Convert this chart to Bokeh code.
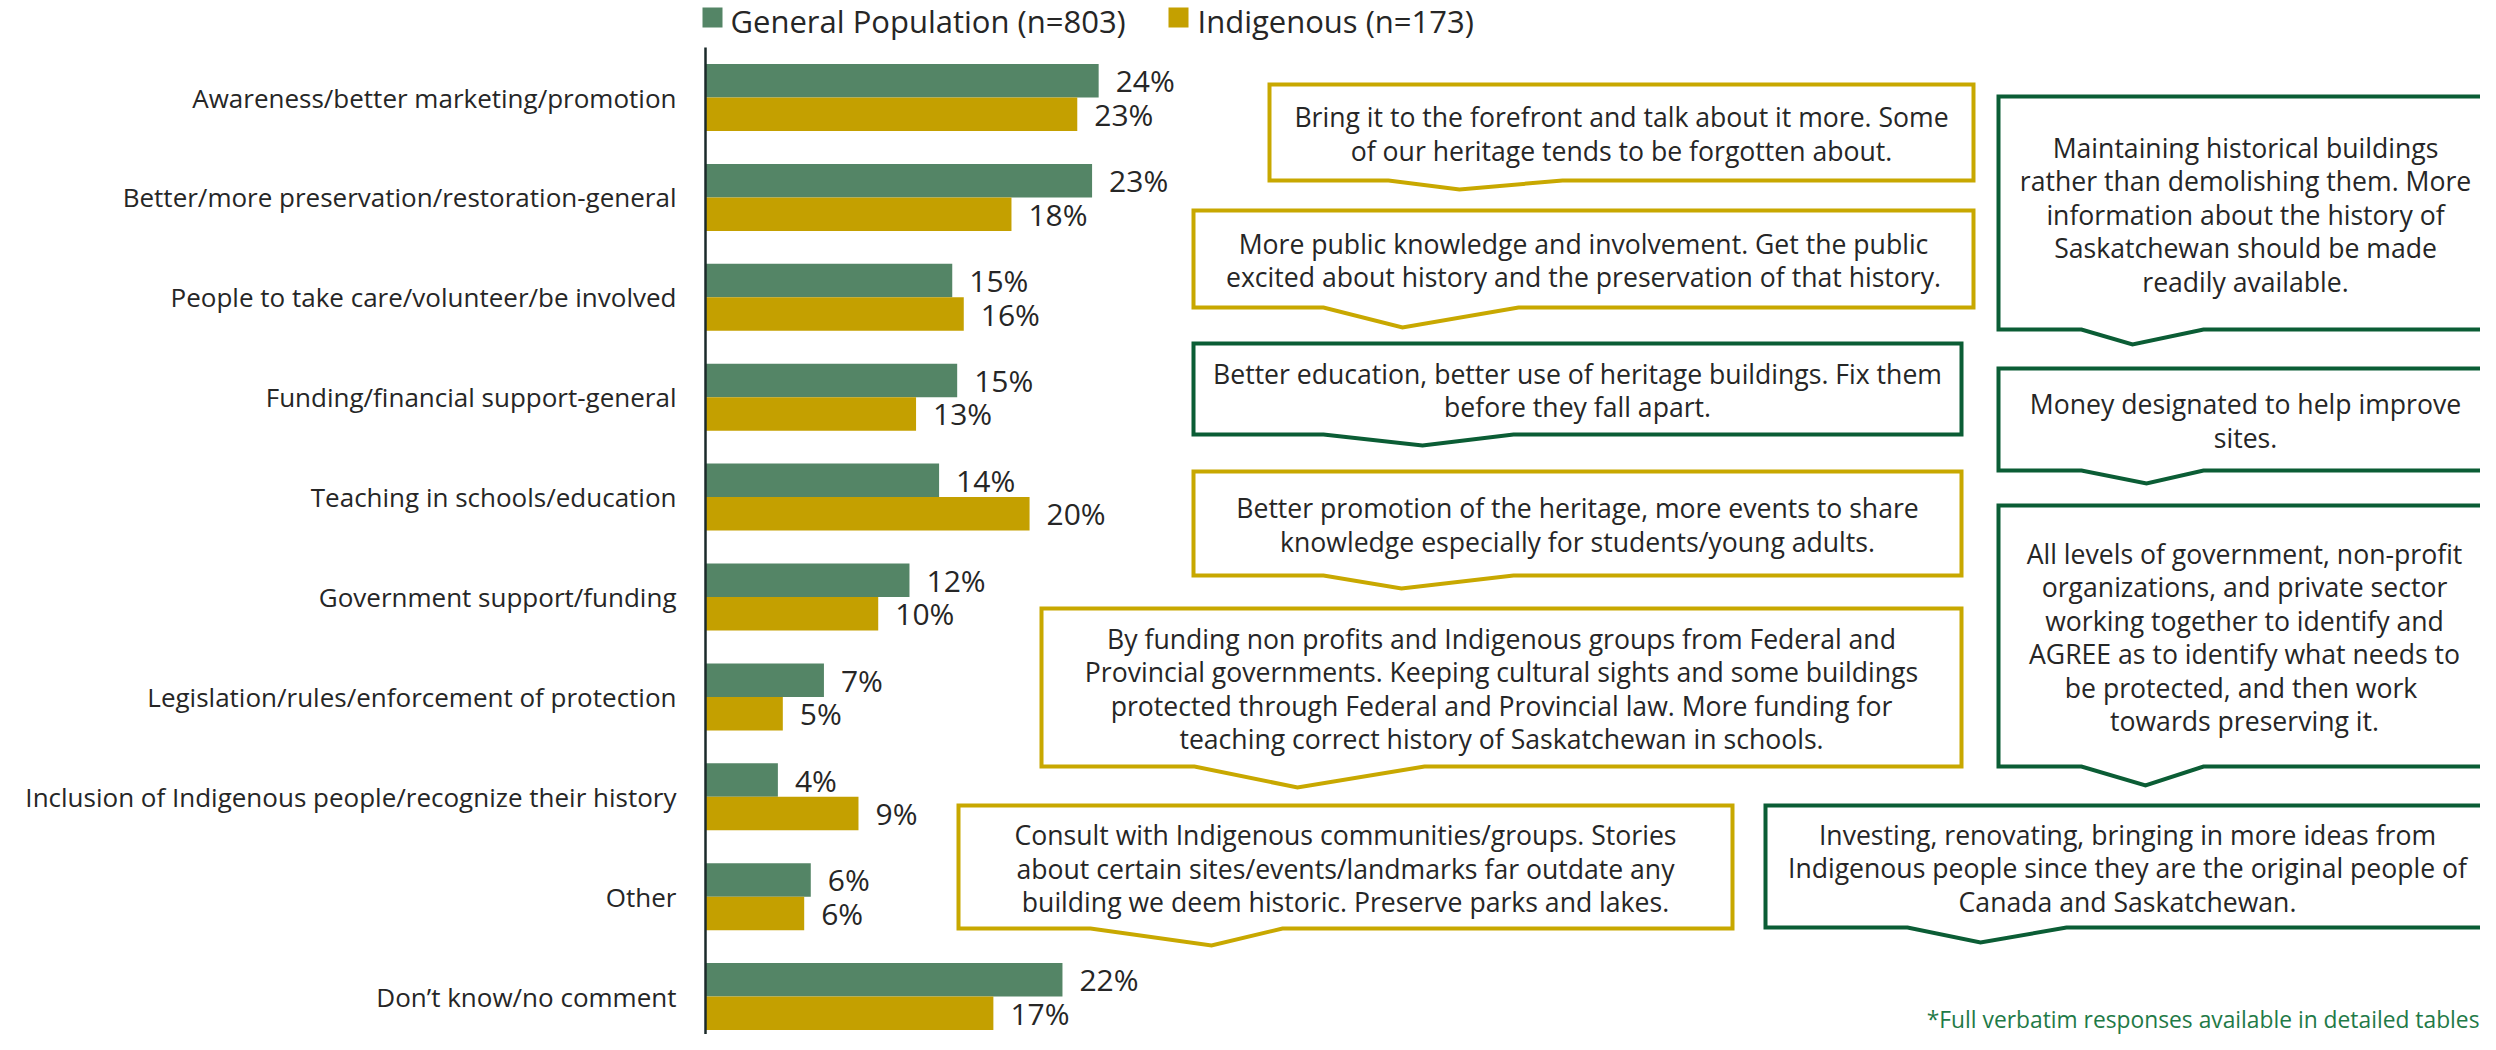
import numpy as np
from bokeh.plotting import figure
from bokeh.models import Range1d, ColumnDataSource
from bokeh.embed import file_html
from bokeh.resources import INLINE
from bokeh.core.properties import value

# ---------------- data ----------------
categories = [
    "Awareness/better marketing/promotion",
    "Better/more preservation/restoration-general",
    "People to take care/volunteer/be involved",
    "Funding/financial support-general",
    "Teaching in schools/education",
    "Government support/funding",
    "Legislation/rules/enforcement of protection",
    "Inclusion of Indigenous people/recognize their history",
    "Other",
    "Don\u2019t know/no comment",
]
general_population = [23.9, 23.5, 15.0, 15.3, 14.2, 12.4, 7.2, 4.4, 6.4, 21.7]
indigenous = [22.6, 18.6, 15.7, 12.8, 19.7, 10.5, 4.7, 9.3, 6.0, 17.5]
general_population_labels = ["24%", "23%", "15%", "15%", "14%", "12%", "7%", "4%", "6%", "22%"]
indigenous_labels = ["23%", "18%", "16%", "13%", "20%", "10%", "5%", "9%", "6%", "17%"]
series_names = ["General Population (n=803)", "Indigenous (n=173)"]
footnote = "*Full verbatim responses available in detailed tables"

quote_lines = [
    ["Bring it to the forefront and talk about it more. Some",
     "of our heritage tends to be forgotten about."],
    ["Maintaining historical buildings",
     "rather than demolishing them. More",
     "information about the history of",
     "Saskatchewan should be made",
     "readily available."],
    ["More public knowledge and involvement. Get the public",
     "excited about history and the preservation of that history."],
    ["Better education, better use of heritage buildings. Fix them",
     "before they fall apart."],
    ["Money designated to help improve",
     "sites."],
    ["Better promotion of the heritage, more events to share",
     "knowledge especially for students/young adults."],
    ["All levels of government, non-profit",
     "organizations, and private sector",
     "working together to identify and",
     "AGREE as to identify what needs to",
     "be protected,  and then work",
     "towards preserving it."],
    ["By funding non profits and Indigenous groups from Federal and",
     "Provincial governments. Keeping cultural sights and some buildings",
     "protected through Federal and Provincial law. More funding for",
     "teaching correct history of Saskatchewan in schools."],
    ["Consult with Indigenous communities/groups. Stories",
     "about certain sites/events/landmarks far outdate any",
     "building we deem historic. Preserve parks and lakes."],
    ["Investing, renovating, bringing in more ideas from",
     "Indigenous people since they are the original people of",
     "Canada and Saskatchewan."],
]
quote_group = ["Indigenous", "General Population", "Indigenous", "General Population",
               "General Population", "Indigenous", "General Population", "Indigenous",
               "Indigenous", "General Population"]

# ---------------- layout / style (screen pixels of the page) ----------------
# left, top, right, bottom, tip_x, tip_y, base_left, base_right, text_center_x
callout_layout = [
    (1277, 92, 1981, 188, 1467, 197, 1396, 1570, 1629),
    (2006, 104, 2502, 337, 2140, 352, 2089, 2211, 2253),
    (1201, 218, 1981, 315, 1410, 335, 1331, 1526, 1591),
    (1201, 351, 1969, 442, 1430, 453, 1331, 1521, 1585),
    (2006, 376, 2502, 478, 2154, 491, 2089, 2211, 2253),
    (1201, 479, 1969, 583, 1409, 596, 1331, 1521, 1585),
    (2006, 513, 2502, 774, 2153, 793, 2089, 2211, 2252),
    (1049, 616, 1969, 774, 1305, 795, 1202, 1432, 1509),
    (966, 813, 1740, 936, 1219, 953, 1098, 1290, 1353),
    (1773, 813, 2502, 935, 1988, 950, 1915, 2074, 2135),
]

W, H = 2480, 1034
MARGIN = 8
AXIS_SX = 713
PX_PER_PCT = 16.45
ROW0_SY = 105
ROW_PX = 99.9
BAR_PX = 33.5

FONT = "Open Sans"
TXT = "#262626"
GREEN = "#548566"
GOLD = "#C4A000"
GREEN_LINE = "#0B5D35"
GOLD_LINE = "#C8A800"
FOOT = "#1F7A47"
line_color_for = {"General Population": GREEN_LINE, "Indigenous": GOLD_LINE}


def dx(sx):
    return (sx - AXIS_SX) / PX_PER_PCT


def dy(sy):
    return -(sy - ROW0_SY) / ROW_PX


p = figure(width=W, height=H, title=None,
           x_range=Range1d(dx(MARGIN), dx(MARGIN + W)),
           y_range=Range1d(dy(MARGIN + H), dy(MARGIN)),
           x_axis_location=None, y_axis_location=None,
           output_backend="svg", toolbar_location=None, tools="", min_border=0)
p.grid.visible = False
p.outline_line_color = None
p.background_fill_color = "white"
p.border_fill_color = "white"

rows = -np.arange(len(categories), dtype=float)
h = BAR_PX / ROW_PX
src = ColumnDataSource(dict(
    row=rows, y_gp=rows + h / 2, y_ind=rows - h / 2,
    gp=general_population, ind=indigenous,
    gpl=general_population_labels, indl=indigenous_labels, cat=categories,
))

p.hbar(y="y_gp", left=0, right="gp", height=h, fill_color=GREEN, line_color=None, source=src)
p.hbar(y="y_ind", left=0, right="ind", height=h, fill_color=GOLD, line_color=None, source=src)

common = dict(text_font=value(FONT), text_color=TXT, text_baseline="middle")
p.text(x="gp", y="y_gp", text="gpl", x_offset=17, text_font_size="30px", source=src, **common)
p.text(x="ind", y="y_ind", text="indl", x_offset=17, text_font_size="30px", source=src, **common)
p.text(x=0, y="row", text="cat", x_offset=-(AXIS_SX - 684), text_align="right",
       text_font_size="26px", source=src, **common)

# vertical category axis line
p.segment(x0=0, y0=dy(55), x1=0, y1=dy(1060), line_color="#1b2a2a", line_width=2.5)

# legend
p.rect(x=[dx(720), dx(1186)], y=[dy(25), dy(25)], width=20, height=20,
       width_units="screen", height_units="screen",
       fill_color=[GREEN, GOLD], line_color=None)
p.text(x=[dx(738), dx(1205)], y=[dy(28), dy(28)], text=series_names,
       text_font_size="31px", **common)

# callouts
xs, ys, lc = [], [], []
tx, ty, tt = [], [], []
LINE_PX = 33.5
for lines, grp, (L, T, R, B, tipx, tipy, bl, br, cx) in zip(quote_lines, quote_group, callout_layout):
    pts = [(L, T), (R, T), (R, B), (br, B), (tipx, tipy), (bl, B), (L, B)]
    xs.append([dx(a) for a, _ in pts])
    ys.append([dy(b) for _, b in pts])
    lc.append(line_color_for[grp])
    cy = (T + B) / 2 + 1.5
    n = len(lines)
    for k, s in enumerate(lines):
        tx.append(dx(cx))
        ty.append(dy(cy + (k - (n - 1) / 2) * LINE_PX))
        tt.append(s)

p.patches(xs, ys, fill_color="white", line_color=lc, line_width=4, line_join="miter")
p.text(x=tx, y=ty, text=tt, text_align="center", text_font_size="26.6px", **common)

# footnote
p.text(x=[dx(2487)], y=[dy(1027)], text=[footnote], text_align="right",
       text_baseline="middle", text_font=value(FONT), text_font_size="22.8px",
       text_color=FOOT)

open("out.html", "w").write(file_html(p, INLINE))
